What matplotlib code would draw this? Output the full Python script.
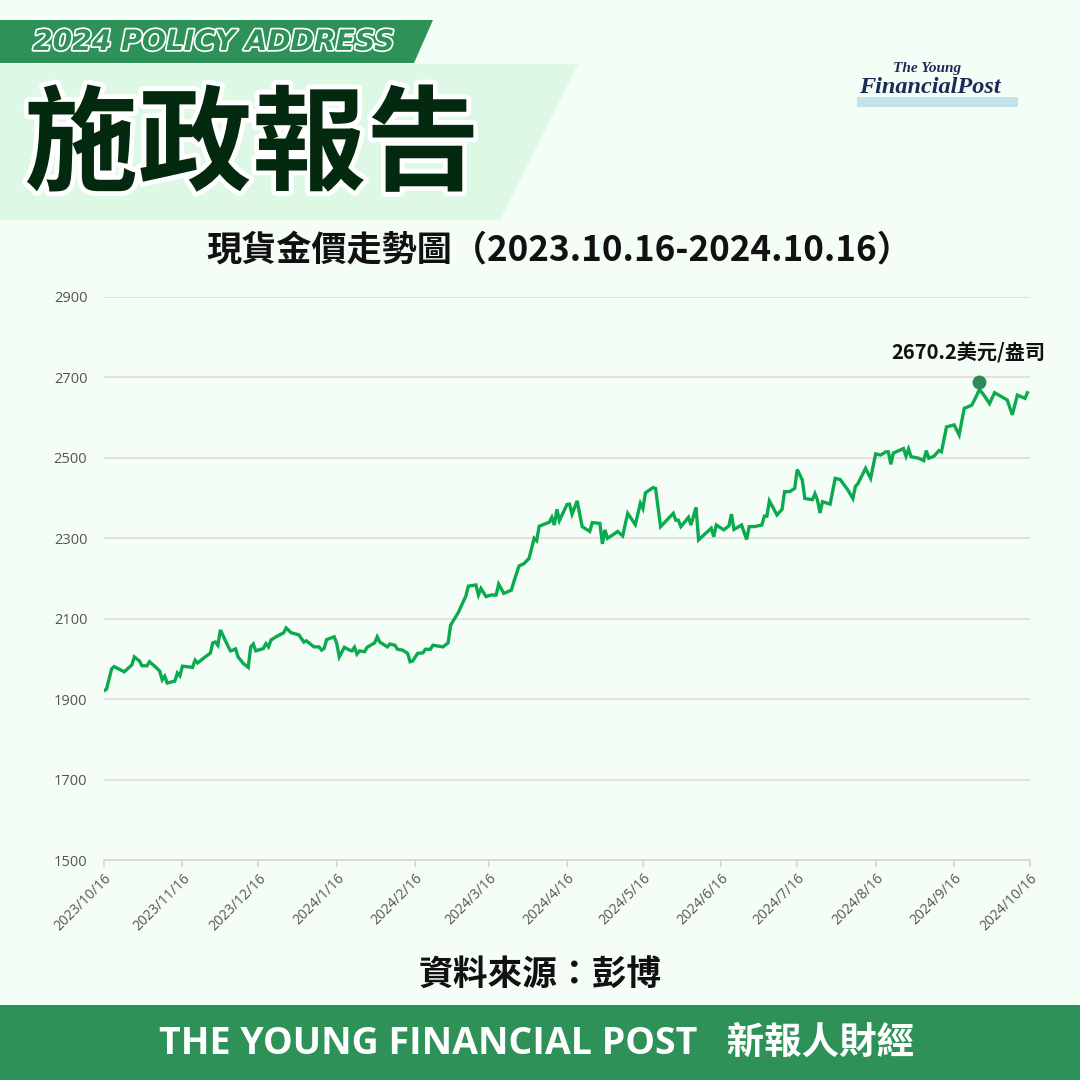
import matplotlib
matplotlib.use("Agg")
import matplotlib.pyplot as plt
import matplotlib.patheffects as pe
from matplotlib.patches import Polygon, Rectangle
import matplotlib.transforms as mtransforms
import numpy as np
import pandas as pd

# 數據：日數（由 2023-10-16 起計）與現貨金價（美元/盎司）
start_date = "2023-10-16"
days_from_start = [
    0, 1, 3, 4, 8, 11, 12, 14, 15, 17, 18, 20, 22, 23, 24, 25, 28, 29, 30, 31,
    35, 36, 37, 40, 42, 43, 44, 45, 46, 49, 50, 51, 52, 53, 55, 57, 58, 59, 60, 63,
    64, 65, 66, 68, 71, 72, 74, 77, 79, 80, 83, 85, 86, 87, 88, 91, 92, 93, 95, 97,
    98, 99, 100, 101, 103, 104, 107, 108, 109, 112, 113, 115, 116, 118, 120, 121, 122, 124, 126, 127,
    129, 130, 132, 134, 136, 137, 140, 143, 144, 147, 148, 149, 151, 153, 155, 156, 158, 161, 162, 164,
    166, 168, 170, 171, 172, 174, 176, 177, 178, 179, 180, 183, 184, 185, 187, 189, 191, 192, 193, 196,
    197, 198, 199, 201, 203, 205, 207, 210, 212, 213, 214, 217, 218, 220, 225, 226, 227, 228, 231, 232,
    234, 235, 240, 241, 242, 245, 247, 248, 249, 252, 254, 255, 257, 260, 261, 262, 263, 266, 268, 269,
    271, 273, 274, 276, 277, 280, 281, 282, 283, 284, 287, 289, 291, 294, 296, 297, 298, 301, 303, 305,
    307, 309, 310, 311, 312, 316, 317, 318, 319, 322, 324, 325, 326, 328, 330, 331, 333, 336, 338, 340,
    343, 345, 346, 348, 350, 352, 357, 359, 361, 364, 365,
]
gold_price = [
    1921, 1925, 1975, 1981, 1968, 1985, 2005, 1995, 1983, 1983, 1993, 1982, 1970, 1948, 1957, 1940, 1945, 1965, 1958, 1982,
    1979, 1997, 1990, 2005, 2014, 2040, 2042, 2034, 2072, 2032, 2020, 2022, 2025, 2005, 1989, 1979, 2030, 2037, 2020, 2026,
    2038, 2030, 2047, 2055, 2065, 2077, 2065, 2060, 2042, 2045, 2030, 2030, 2022, 2026, 2048, 2055, 2038, 2005, 2029, 2022,
    2020, 2029, 2012, 2020, 2018, 2029, 2040, 2055, 2042, 2030, 2037, 2034, 2024, 2022, 2014, 1993, 1995, 2014, 2015, 2024,
    2024, 2034, 2032, 2030, 2040, 2084, 2115, 2156, 2181, 2184, 2159, 2175, 2155, 2159, 2159, 2186, 2163, 2171, 2192, 2231,
    2237, 2250, 2300, 2294, 2330, 2335, 2340, 2352, 2333, 2372, 2344, 2384, 2385, 2360, 2393, 2329, 2321, 2317, 2339, 2337,
    2286, 2321, 2300, 2308, 2317, 2306, 2362, 2334, 2387, 2374, 2413, 2426, 2424, 2329, 2362, 2345, 2345, 2329, 2352, 2333,
    2377, 2296, 2325, 2304, 2333, 2321, 2331, 2360, 2322, 2333, 2297, 2329, 2329, 2333, 2355, 2355, 2393, 2358, 2372, 2416,
    2416, 2424, 2471, 2445, 2399, 2396, 2411, 2395, 2363, 2391, 2385, 2449, 2446, 2420, 2399, 2429, 2436, 2474, 2449, 2510,
    2507, 2515, 2515, 2484, 2512, 2523, 2504, 2522, 2503, 2499, 2493, 2518, 2499, 2504, 2518, 2515, 2577, 2582, 2557, 2623,
    2631, 2656, 2670.2, 2654, 2635, 2662, 2644, 2607, 2656, 2648, 2662,
]
peak_label = "2670.2美元/盎司"
y_ticks = [1500, 1700, 1900, 2100, 2300, 2500, 2700, 2900]
month_ticks = pd.date_range("2023-10-01", "2024-10-01", freq="MS") + pd.Timedelta(days=15)

dates = pd.Timestamp(start_date) + pd.to_timedelta(days_from_start, unit="D")
prices = np.array(gold_price)

BG = "#F4FDF6"
GREEN = "#2E9158"
LINE = "#0BAA4F"
CJK = ["Noto Sans CJK TC", "DejaVu Sans"]

fig = plt.figure(figsize=(10.8, 10.8), dpi=100, facecolor=BG)

# 版面層（像素座標）
bg = fig.add_axes([0, 0, 1, 1], zorder=0)
bg.set_xlim(0, 1080)
bg.set_ylim(1080, 0)
bg.axis("off")
bg.add_patch(Polygon([[0, 64], [578, 64], [500, 220], [0, 220]], closed=True, color="#DDF8E4", lw=0))
bg.add_patch(Polygon([[0, 20], [433, 20], [414, 63], [0, 63]], closed=True, color=GREEN, lw=0))
bg.add_patch(Rectangle((0, 1005), 1080, 75, color=GREEN, lw=0))

bg.text(33, 42, "2024 POLICY ADDRESS", fontsize=20.3, fontweight="bold", style="italic",
        family="DejaVu Sans", color=GREEN, va="center", ha="left",
        path_effects=[pe.Stroke(linewidth=2.5, foreground="white"), pe.Normal()])
bg.text(252, 148, "施政報告", fontsize=82, fontweight="heavy", family=CJK, color="#03290F",
        va="center", ha="center",
        path_effects=[pe.Stroke(linewidth=7, foreground="white"), pe.Normal()])

# 標誌
bg.text(893, 72, "The Young", fontsize=11, fontweight="bold", style="italic",
        family="Liberation Serif", color="#1B2A57", va="baseline", ha="left")
bg.text(859, 93, "FinancialPost", fontsize=17.5, fontweight="bold", style="italic",
        family="Liberation Serif", color="#1B2A57", va="baseline", ha="left")
bg.add_patch(Rectangle((857, 97), 161, 10, color="#C3E3EC", lw=0))

bg.text(559, 250, "現貨金價走勢圖（2023.10.16-2024.10.16）", fontsize=25.3, fontweight="bold",
        family=CJK, color="#111111", va="center", ha="center")
bg.text(540, 975, "資料來源：彭博", fontsize=25, fontweight="bold", family=CJK,
        color="#111111", va="center", ha="center")
bg.text(537, 1044, "THE YOUNG FINANCIAL POST   新報人財經", fontsize=27, fontweight="bold",
        family=["Open Sans", "Noto Sans CJK TC"], color="white", va="center", ha="center")

# 圖表
ax = fig.add_axes([104 / 1080, 1 - 860 / 1080, 926 / 1080, 563 / 1080], zorder=1)
ax.set_facecolor("none")
ax.plot(dates, prices, color=LINE, lw=2.4, solid_joinstyle="miter", zorder=3)

peak_i = int(np.argmax(prices))
lift = mtransforms.offset_copy(ax.transData, fig=fig, x=0, y=5, units="points")
ax.plot(dates[peak_i], prices[peak_i], "o", color="#2E8B57", ms=9, transform=lift, zorder=4)
ax.annotate(peak_label, (dates[peak_i], prices[peak_i]), xytext=(-8, 26), textcoords="offset points",
            ha="center", va="center", fontsize=14.5, fontweight="bold", family=CJK, color="#111111")

ax.set_xlim(pd.Timestamp("2023-10-16"), pd.Timestamp("2024-10-16"))
ax.set_ylim(1500, 2900)
ax.set_yticks(y_ticks)
ax.set_yticklabels([str(v) for v in y_ticks], family="Open Sans", fontsize=10.5, color="#555555")
ax.set_xticks(month_ticks)
ax.set_xticklabels([f"{d.year}/{d.month}/{d.day}" for d in month_ticks], rotation=45, ha="right",
                   rotation_mode="anchor", family="Open Sans", fontsize=10, color="#555555")
ax.grid(axis="y", color="#DCDCDC", lw=1.2)
ax.set_axisbelow(True)
for s in ["left", "right", "top"]:
    ax.spines[s].set_visible(False)
ax.spines["bottom"].set_color("#D5D5D5")
ax.spines["bottom"].set_linewidth(1.2)
ax.tick_params(axis="y", length=0, pad=12)
ax.tick_params(axis="x", length=5, color="#D5D5D5", width=1.2, pad=3)

fig.savefig("out.png", dpi=100, facecolor=BG)
